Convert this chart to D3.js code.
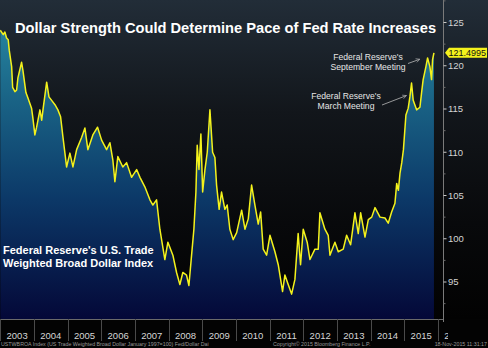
<!DOCTYPE html>
<html>
<head>
<meta charset="utf-8">
<script src="https://cdn.jsdelivr.net/npm/d3@7"></script>
<style>
  html, body { margin: 0; padding: 0; background: #000; }
  svg { display: block; font-family: "Liberation Sans", Arial, sans-serif; }
</style>
</head>
<body>
<svg id="chart"></svg>
<script>
// trade weighted broad dollar index, sampled readings
const dates = [
  "2003-01-01","2003-02-02","2003-02-20","2003-03-10","2003-03-28","2003-04-08","2003-05-04","2003-05-15","2003-06-09","2003-06-27","2003-07-11","2003-08-20","2003-09-03","2003-10-06","2003-10-27","2003-12-06","2003-12-20",
  "2004-01-11","2004-01-30","2004-03-06","2004-03-25","2004-04-08","2004-05-18","2004-06-12","2004-07-11","2004-08-16","2004-09-17","2004-10-16","2004-11-10","2004-12-02","2004-12-20",
  "2005-01-25","2005-02-27","2005-04-08","2005-06-01","2005-07-07","2005-08-08","2005-10-01","2005-11-21",
  "2006-01-04","2006-02-27","2006-04-04","2006-05-06","2006-05-28","2006-06-29","2006-08-22","2006-10-02","2006-11-25",
  "2007-01-19","2007-02-24","2007-04-18","2007-06-12","2007-07-14","2007-08-23","2007-09-28","2007-11-21","2007-12-24",
  "2008-02-16","2008-03-27","2008-05-02","2008-06-03","2008-07-13","2008-08-08","2008-09-06","2008-10-01","2008-10-23","2008-11-06","2008-11-25","2008-12-16",
  "2009-01-04","2009-01-29","2009-02-23","2009-03-24","2009-04-22","2009-05-17","2009-06-04","2009-07-02","2009-07-28","2009-09-02","2009-09-27","2009-10-26","2009-12-01",
  "2010-01-08","2010-03-03","2010-04-08","2010-05-14","2010-06-19","2010-07-25","2010-08-30","2010-09-25","2010-10-23","2010-11-29",
  "2011-01-04","2011-02-27","2011-04-04","2011-05-21","2011-06-15","2011-07-21","2011-08-27","2011-10-02","2011-11-06","2011-12-02","2011-12-31",
  "2012-02-12","2012-03-13","2012-05-06","2012-06-11","2012-06-29","2012-08-22","2012-09-27","2012-10-16","2012-12-09",
  "2013-01-14","2013-03-09","2013-04-15","2013-05-28","2013-07-14","2013-08-19","2013-09-14","2013-10-31","2013-12-06",
  "2014-01-12","2014-02-17","2014-04-12","2014-06-05","2014-07-10","2014-08-16","2014-09-21","2014-10-10","2014-10-28","2014-11-15","2014-12-04","2014-12-22",
  "2015-01-18","2015-02-12","2015-03-02","2015-03-20","2015-04-07","2015-05-14","2015-06-19","2015-07-07","2015-07-24","2015-08-23","2015-09-10","2015-10-05","2015-10-23","2015-11-03","2015-11-18"
];
const values = [
  124.1,123.6,123.9,123.2,123.0,121.8,119.9,117.5,117.0,117.2,118.6,120.4,119.5,116.9,116.3,115.1,114.0,
  112.0,112.9,114.9,113.7,114.9,118.1,116.4,116.0,115.5,114.9,114.1,111.8,109.9,108.3,
  109.9,108.3,110.3,111.7,112.8,110.3,112.0,112.9,
  111.4,110.3,111.1,109.1,106.6,109.5,108.3,108.8,107.1,
  108.0,107.1,106.0,104.5,103.9,104.5,101.1,97.6,99.6,
  98.1,96.1,94.7,96.1,95.8,94.6,98.1,101.1,105.4,110.8,108.0,112.1,
  105.4,108.0,110.0,114.9,110.0,109.4,106.2,103.4,105.4,103.4,103.9,101.1,99.9,
  100.7,103.3,101.1,102.3,106.2,103.9,101.7,103.1,98.8,98.1,
  100.4,98.5,97.0,93.9,95.8,94.7,93.6,95.3,100.6,97.0,101.1,
  99.6,97.6,98.8,98.8,103.0,101.1,100.4,98.1,99.6,
  98.5,98.8,100.4,99.3,103.0,100.6,103.0,100.2,102.2,
  102.5,103.6,102.5,102.4,101.8,103.1,104.1,106.4,105.6,107.6,108.8,110.3,
  114.3,115.1,116.4,118.0,116.0,114.9,115.2,116.9,118.4,119.9,120.9,119.9,118.4,120.7,121.4995
];
const yTicks = [95, 100, 105, 110, 115, 120, 125];
const years = d3.range(2003, 2017);
const lastValue = "121.4995";
const title = "Dollar Strength Could Determine Pace of Fed Rate Increases";
const seriesName = ["Federal Reserve's U.S. Trade", "Weighted Broad Dollar Index"];
const notes = [
  {lines: ["Federal Reserve's", "September Meeting"], at: "2015-07-20", v: 121.1},
  {lines: ["Federal Reserve's", "March Meeting"], at: "2015-02-25", v: 116.9}
];

const width = 488, height = 348;
const plotW = 437, plotB = 319, axisX = 443;

const parse = d3.timeParse('%Y-%m-%d');
const data = dates.map((d, i) => ({date: parse(d), v: values[i]}));

const x = d3.scaleTime()
  .domain([new Date(2003, 0, 1), new Date(2016, 0, 1)])
  .range([0.3, 438]);

const y = d3.scaleLinear()
  .domain([95, 125])
  .range([282, 22.5]);

const svg = d3.select('#chart')
  .attr('width', width)
  .attr('height', height);

const defs = svg.append('defs');

const bg = defs.append('linearGradient')
  .attr('id', 'bg').attr('x1', 0).attr('y1', 0).attr('x2', 0).attr('y2', 1);
bg.append('stop').attr('offset', '0%').attr('stop-color', '#222d38');
bg.append('stop').attr('offset', '35%').attr('stop-color', '#12161b');
bg.append('stop').attr('offset', '70%').attr('stop-color', '#08090b');
bg.append('stop').attr('offset', '100%').attr('stop-color', '#020202');

const fill = defs.append('linearGradient')
  .attr('id', 'fill').attr('gradientUnits', 'userSpaceOnUse')
  .attr('x1', 0).attr('y1', 0).attr('x2', 0).attr('y2', plotB);
fill.append('stop').attr('offset', '0%').attr('stop-color', '#2b8fa8');
fill.append('stop').attr('offset', '30%').attr('stop-color', '#1a6587');
fill.append('stop').attr('offset', '62%').attr('stop-color', '#0c3968');
fill.append('stop').attr('offset', '100%').attr('stop-color', '#040838');

defs.append('clipPath').attr('id', 'plotClip')
  .append('rect').attr('x', 0).attr('y', 0).attr('width', plotW).attr('height', plotB);

defs.append('clipPath').attr('id', 'axisClip')
  .append('rect').attr('x', 0).attr('y', plotB).attr('width', 448).attr('height', 30);

defs.append('marker')
  .attr('id', 'arrow')
  .attr('viewBox', '0 0 10 10')
  .attr('refX', 9).attr('refY', 5)
  .attr('markerWidth', 6).attr('markerHeight', 6)
  .attr('orient', 'auto')
  .append('path')
  .attr('d', 'M1,1 L9,5 L1,9')
  .attr('fill', 'none')
  .attr('stroke', '#b8b8b8')
  .attr('stroke-width', 1.2);

// background
svg.append('rect')
  .attr('width', width).attr('height', plotB)
  .attr('fill', 'url(#bg)');
svg.append('rect')
  .attr('y', plotB).attr('width', width).attr('height', height - plotB)
  .attr('fill', '#030303');

const plot = svg.append('g').attr('clip-path', 'url(#plotClip)');

const area = d3.area()
  .x(d => x(d.date))
  .y0(plotB)
  .y1(d => y(d.v));

const line = d3.line()
  .x(d => x(d.date))
  .y(d => y(d.v));

plot.append('path')
  .datum(data)
  .attr('d', area)
  .attr('fill', 'url(#fill)');

plot.append('path')
  .datum(data)
  .attr('d', line)
  .attr('fill', 'none')
  .attr('stroke', '#f4f21c')
  .attr('stroke-width', 1.5)
  .attr('stroke-linejoin', 'round');

// frame lines
svg.append('line')
  .attr('x1', 0).attr('x2', axisX).attr('y1', plotB + 0.5).attr('y2', plotB + 0.5)
  .attr('stroke', '#6a6a6a');
svg.append('line')
  .attr('x1', axisX + 0.5).attr('x2', axisX + 0.5).attr('y1', 0).attr('y2', plotB + 3)
  .attr('stroke', '#7a7a7a');

// right axis
const yAxis = svg.append('g')
  .attr('transform', `translate(${axisX + 0.5},0)`);
yAxis.selectAll('.minor')
  .data(d3.range(92.5, 128, 2.5).filter(v => v % 5 !== 0))
  .enter().append('line')
  .attr('x1', 0).attr('x2', 2)
  .attr('y1', d => y(d)).attr('y2', d => y(d))
  .attr('stroke', '#6a6a6a');
yAxis.selectAll('.major')
  .data(yTicks)
  .enter().append('line')
  .attr('x1', 0).attr('x2', 3)
  .attr('y1', d => y(d)).attr('y2', d => y(d))
  .attr('stroke', '#c8c8c8');
yAxis.selectAll('.lbl')
  .data(yTicks)
  .enter().append('text')
  .attr('x', 4.5)
  .attr('y', d => y(d))
  .attr('dy', '0.35em')
  .attr('font-size', 9.5)
  .attr('fill', '#d4d4d4')
  .text(d => d);

// last value tag
const ly = y(values[values.length - 1]);
svg.append('path')
  .attr('d', `M445,${ly} L449,${ly - 5} L487,${ly - 5} L487,${ly + 5} L449,${ly + 5} Z`)
  .attr('fill', '#f4f21c');
svg.append('text')
  .attr('x', 448.5).attr('y', ly).attr('dy', '0.36em')
  .attr('font-size', 9)
  .attr('fill', '#111')
  .text(lastValue);

// year bands
const xAxis = svg.append('g').attr('clip-path', 'url(#axisClip)');
xAxis.selectAll('.sep')
  .data(years)
  .enter().append('line')
  .attr('x1', d => Math.round(x(new Date(d, 0, 1))) + 0.5)
  .attr('x2', d => Math.round(x(new Date(d, 0, 1))) + 0.5)
  .attr('y1', plotB).attr('y2', plotB + 22)
  .attr('stroke', '#4a4a4a');
xAxis.selectAll('.year')
  .data(years)
  .enter().append('text')
  .attr('x', d => (x(new Date(d, 0, 1)) + x(new Date(d + 1, 0, 1))) / 2)
  .attr('y', 339)
  .attr('text-anchor', 'middle')
  .attr('font-size', 9.5)
  .attr('fill', '#d6d6d6')
  .text(d => d);

// footer
const foot = svg.append('g').attr('font-size', 5.3).attr('fill', '#9a9a9a');
foot.append('text').attr('x', 1).attr('y', 346)
  .text('USTWBROA Index (US Trade Weighted Broad Dollar January 1997=100) Fed/Dollar  Dai');
foot.append('text').attr('x', 273).attr('y', 346)
  .text('Copyright\u00a9 2015 Bloomberg Finance L.P.');
foot.append('text').attr('x', 487).attr('y', 346).attr('text-anchor', 'end')
  .text('18-Nov-2015 11:31:17');

// title and series name
const titleText = svg.append('text')
  .attr('x', 15).attr('y', 32.5)
  .attr('font-size', 15.4)
  .attr('font-weight', 'bold')
  .attr('fill', '#ffffff')
  .text(title);
// fit the title between the left margin and the plot edge
const tw = titleText.node().getComputedTextLength();
titleText.attr('font-size', 15.4 * 421 / tw);

svg.selectAll('.series')
  .data(seriesName)
  .enter().append('text')
  .attr('x', 3)
  .attr('y', (d, i) => 254 + i * 12.5)
  .attr('font-size', 11)
  .attr('font-weight', 'bold')
  .attr('fill', '#ffffff')
  .text(d => d);

// meeting notes
const noteBox = [{cx: 368, y: 60, ax1: 408, ay1: 63.5}, {cx: 346, y: 99, ax1: 382, ay1: 105}];
notes.forEach((n, i) => {
  const b = noteBox[i];
  n.lines.forEach((t, j) => {
    svg.append('text')
      .attr('x', b.cx).attr('y', b.y + j * 9.5)
      .attr('text-anchor', 'middle')
      .attr('font-size', 8.6)
      .attr('fill', '#e6e6e6')
      .text(t);
  });
  const tx = x(parse(n.at)) - 3, ty = y(n.v) + 3;
  svg.append('line')
    .attr('x1', b.ax1).attr('y1', b.ay1)
    .attr('x2', tx).attr('y2', ty)
    .attr('stroke', '#b8b8b8')
    .attr('stroke-width', 0.8)
    .attr('marker-end', 'url(#arrow)');
});
</script>
</body>
</html>
